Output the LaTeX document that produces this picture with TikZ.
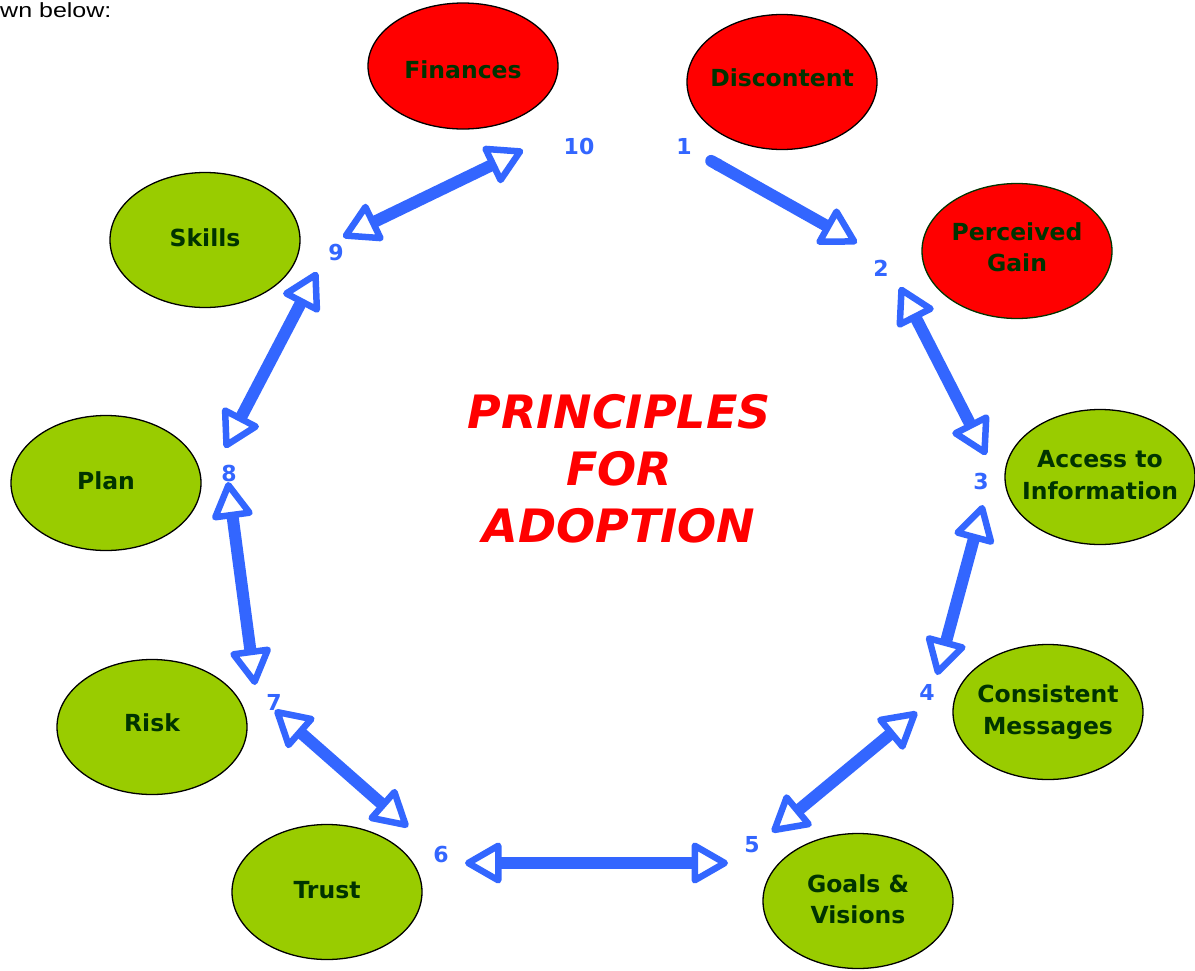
\documentclass[tikz,border=0pt]{standalone}
\usepackage{fontspec}
\setmainfont{Liberation Sans}
\newfontfamily\dv{DejaVu Sans}
\usetikzlibrary{shapes.geometric,arrows.meta}
\definecolor{arrowblue}{HTML}{3366FF}
\definecolor{ovalgreen}{HTML}{99CC00}
\definecolor{ovalred}{HTML}{FF0000}
\definecolor{txtgreen}{HTML}{003300}
\definecolor{titlered}{HTML}{FF0000}
\tikzset{
  oval/.style={ellipse, draw=black, line width=1.3pt, minimum width=190pt, minimum height=135pt, inner sep=0pt},
  redoval/.style={oval, fill=ovalred},
  greenoval/.style={oval, fill=ovalgreen},
  ovaltext/.style={font=\dv\bfseries\fontsize{23.5}{31.5}\selectfont, text=txtgreen, align=center, inner sep=0pt},
  numlabel/.style={font=\dv\bfseries\fontsize{22}{24}\selectfont, text=arrowblue, inner sep=0pt},
  openhead/.tip={Triangle[open, length=40pt, width=44pt, line width=6.5pt, round]},
  conn/.style={draw=arrowblue, line width=12pt, line cap=butt, line join=round},
  twoway/.style={conn, openhead-openhead},
  oneway/.style={conn, {Round Cap[]}-openhead},
}
\begin{document}
\begin{tikzpicture}[x=1pt,y=-1pt]
\useasboundingbox (0,0) rectangle (1195,970);
\fill[white] (0,0) rectangle (1195,970);

\node[anchor=base west, inner sep=0pt, xscale=1.22, font=\fontsize{20.5}{24}\selectfont] (intro) at (0,17) {wn below:};

% ovals
\node[redoval, minimum height=126pt] (finO) at (463,66) {};
\node[ovaltext] (finT) at ([yshift=-4pt]finO) {Finances};
\node[redoval] (disO) at (782,82) {};
\node[ovaltext] (disT) at ([yshift=4pt]disO) {Discontent};
\node[redoval, draw=txtgreen] (perO) at (1017,251) {};
\node[ovaltext] (perT) at ([yshift=4pt]perO) {Perceived\\Gain};
\node[greenoval] (accO) at (1100,477) {};
\node[ovaltext] (accT) at ([yshift=2pt]accO) {Access to\\Information};
\node[greenoval] (conO) at (1048,712) {};
\node[ovaltext] (conT) at (conO) {Consistent\\Messages};
\node[greenoval] (goaO) at (858,901) {};
\node[ovaltext] (goaT) at ([yshift=2pt]goaO) {Goals \&\\Visions};
\node[greenoval] (truO) at (327,892) {};
\node[ovaltext] (truT) at ([yshift=2pt]truO) {Trust};
\node[greenoval] (risO) at (152,727) {};
\node[ovaltext] (risT) at ([yshift=4pt]risO) {Risk};
\node[greenoval] (plaO) at (106,483) {};
\node[ovaltext] (plaT) at ([yshift=2pt]plaO) {Plan};
\node[greenoval] (skiO) at (205,240) {};
\node[ovaltext] (skiT) at ([yshift=2pt]skiO) {Skills};

% title
\node[font=\dv\bfseries\itshape\fontsize{46}{57}\selectfont, text=titlered, align=center, inner sep=0pt] (title) at (619,469) {PRINCIPLES\\FOR\\ADOPTION};

% number labels
\node[numlabel] (n10) at (579,146) {10};
\node[numlabel] (n1) at (684,146) {1};
\node[numlabel] (n2) at (881,268) {2};
\node[numlabel] (n3) at (981,481) {3};
\node[numlabel] (n4) at (927,692) {4};
\node[numlabel] (n5) at (752,845) {5};
\node[numlabel] (n6) at (441,854) {6};
\node[numlabel] (n7) at (274,702) {7};
\node[numlabel] (n8) at (229,473) {8};
\node[numlabel] (n9) at (336,252) {9};

% connector end points
\coordinate (a1s) at (706,158);  \coordinate (a1e) at (857,243);
\coordinate (a2s) at (900,287);  \coordinate (a2e) at (986,455);
\coordinate (a3s) at (983,505);  \coordinate (a3e) at (937,675);
\coordinate (a4s) at (917,712);  \coordinate (a4e) at (772,832);
\coordinate (a5s) at (728,863);  \coordinate (a5e) at (465,863);
\coordinate (a6s) at (408,827);  \coordinate (a6e) at (275,710);
\coordinate (a7s) at (255,685);  \coordinate (a7e) at (228,482);
\coordinate (a8s) at (225,448);  \coordinate (a8e) at (317,272);
\coordinate (a9s) at (343,237);  \coordinate (a9e) at (523,150);

\draw[oneway] (a1s) -- (a1e);
\draw[twoway] (a2s) -- (a2e);
\draw[twoway] (a3s) -- (a3e);
\draw[twoway] (a4s) -- (a4e);
\draw[twoway] (a5s) -- (a5e);
\draw[twoway] (a6s) -- (a6e);
\draw[twoway] (a7s) -- (a7e);
\draw[twoway] (a8s) -- (a8e);
\draw[twoway] (a9s) -- (a9e);
\end{tikzpicture}
\end{document}
